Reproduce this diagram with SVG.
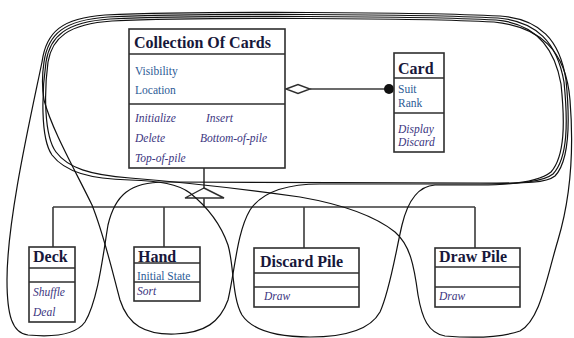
<svg xmlns="http://www.w3.org/2000/svg" width="574" height="338" viewBox="0 0 574 338">
<defs>
<style>
.box{fill:#fff;stroke:#2e2e2e;stroke-width:1.6}
.sep{stroke:#2e2e2e;stroke-width:1.6;fill:none}
.ln{stroke:#3a3a3a;stroke-width:1.6;fill:none}
.loop{stroke:#111;stroke-width:1.2;fill:none}
.hd{font-family:"Liberation Serif","Times New Roman",serif;font-weight:bold;font-size:16px;fill:#17173a}
.at{font-family:"Liberation Serif","Times New Roman",serif;font-size:11.5px;fill:#2d5b96}
.mt{font-family:"Liberation Serif","Times New Roman",serif;font-size:11.5px;font-style:italic;fill:#3b3580}
</style>
</defs>
<rect width="574" height="338" fill="#fff"/>

<g id="connectors">
<polygon points="286,89 298,84.5 310,89 298,93.5" fill="#fff" stroke="#2e2e2e" stroke-width="1.4"/>
<line class="ln" x1="310" y1="89" x2="389" y2="89"/>
<circle cx="389" cy="89" r="5" fill="#111"/>
<line class="ln" x1="204" y1="168" x2="204" y2="188"/>
<polygon points="204,188 224,198 185,198" fill="#fff" stroke="#2e2e2e" stroke-width="1.4"/>
<line class="ln" x1="204" y1="198" x2="204" y2="207"/>
<line class="ln" x1="53" y1="207" x2="475" y2="207"/>
<line class="ln" x1="53" y1="207" x2="53" y2="247"/>
<line class="ln" x1="164" y1="207" x2="164" y2="247"/>
<line class="ln" x1="304" y1="207" x2="304" y2="248"/>
<line class="ln" x1="475" y1="207" x2="475" y2="248"/>
</g>

<g id="collection-of-cards">
<rect class="box" x="129" y="29" width="156" height="139"/>
<line class="sep" x1="129" y1="54" x2="285" y2="54"/>
<line class="sep" x1="129" y1="104" x2="285" y2="104"/>
<text class="hd" x="134" y="48">Collection Of Cards</text>
<text class="at" x="135" y="75">Visibility</text>
<text class="at" x="135" y="94">Location</text>
<text class="mt" x="135" y="122">Initialize</text>
<text class="mt" x="206" y="122">Insert</text>
<text class="mt" x="135" y="142">Delete</text>
<text class="mt" x="200" y="142">Bottom-of-pile</text>
<text class="mt" x="135" y="162">Top-of-pile</text>
</g>

<g id="card">
<rect class="box" x="394" y="53" width="50" height="99"/>
<line class="sep" x1="394" y1="78" x2="444" y2="78"/>
<line class="sep" x1="394" y1="113" x2="444" y2="113"/>
<text class="hd" x="398" y="74">Card</text>
<text class="at" x="398" y="93">Suit</text>
<text class="at" x="398" y="107">Rank</text>
<text class="mt" x="398" y="133">Display</text>
<text class="mt" x="398" y="146">Discard</text>
</g>

<g id="deck">
<rect class="box" x="29" y="247" width="46" height="75"/>
<line class="sep" x1="29" y1="268" x2="75" y2="268"/>
<line class="sep" x1="29" y1="282" x2="75" y2="282"/>
<text class="hd" x="33" y="262">Deck</text>
<text class="mt" x="33" y="296">Shuffle</text>
<text class="mt" x="33" y="316">Deal</text>
</g>

<g id="hand">
<rect class="box" x="134" y="247" width="66" height="54"/>
<line class="sep" x1="134" y1="263" x2="200" y2="263"/>
<line class="sep" x1="134" y1="282" x2="200" y2="282"/>
<text class="hd" x="138" y="262">Hand</text>
<text class="at" x="137" y="280">Initial State</text>
<text class="mt" x="137" y="295">Sort</text>
</g>

<g id="discard-pile">
<rect class="box" x="254" y="248" width="105" height="59"/>
<line class="sep" x1="254" y1="273" x2="359" y2="273"/>
<line class="sep" x1="254" y1="287" x2="359" y2="287"/>
<text class="hd" x="260" y="267">Discard Pile</text>
<text class="mt" x="264" y="300">Draw</text>
</g>

<g id="draw-pile">
<rect class="box" x="435" y="248" width="85" height="59"/>
<line class="sep" x1="435" y1="267" x2="520" y2="267"/>
<line class="sep" x1="435" y1="287" x2="520" y2="287"/>
<text class="hd" x="439" y="262">Draw Pile</text>
<text class="mt" x="439" y="300">Draw</text>
</g>

<g id="loops">
<path class="loop" d="M 42,62 C 46,32 62,18 105,15 C 200,11 420,12 500,16 C 540,19 560,40 566,80 C 570,120 570,160 555,176 C 545,184 520,183 480,183 L 165,182 C 130,182 115,195 108,225 C 103,255 98,300 85,322 C 75,336 50,337 28,335 C 12,333 7,315 7,280 C 7,220 30,120 42,62 Z"/>
<path class="loop" d="M 44,62 C 48,34 64,20 108,17 C 200,13 420,14 498,18 C 536,21 557,42 564,82 C 568,122 568,158 553,174 C 543,182 520,184 480,184 L 320,184 C 285,184 262,192 250,210 C 237,232 235,270 228,300 C 220,322 205,333 175,334 C 145,335 128,325 120,300 C 112,270 104,235 92,205 C 75,170 52,130 44,100 C 42,88 42,75 44,62 Z"/>
<path class="loop" d="M 46,62 C 50,36 66,22 110,19 C 200,15 420,16 496,20 C 532,23 554,44 561,84 C 565,122 565,156 551,172 C 541,180 520,185 480,185 L 435,185 C 418,186 408,200 402,225 C 395,255 390,290 380,312 C 370,330 345,337 310,337 C 275,337 252,330 242,315 C 232,298 234,265 228,245 C 220,222 205,205 190,193 C 178,184 160,181 130,180 C 90,179 65,172 52,155 C 40,138 42,90 46,62 Z"/>
<path class="loop" d="M 48,62 C 52,38 68,24 112,21 C 200,17 420,18 494,22 C 540,27 566,50 570,100 C 574,150 570,200 558,240 C 546,280 540,320 520,331 C 500,338 470,338 445,336 C 428,333 422,318 418,295 C 414,265 410,245 395,232 C 375,216 340,204 300,197 C 250,190 180,182 130,178 C 90,175 68,168 56,152 C 44,136 44,92 48,62 Z"/>
</g>
</svg>
